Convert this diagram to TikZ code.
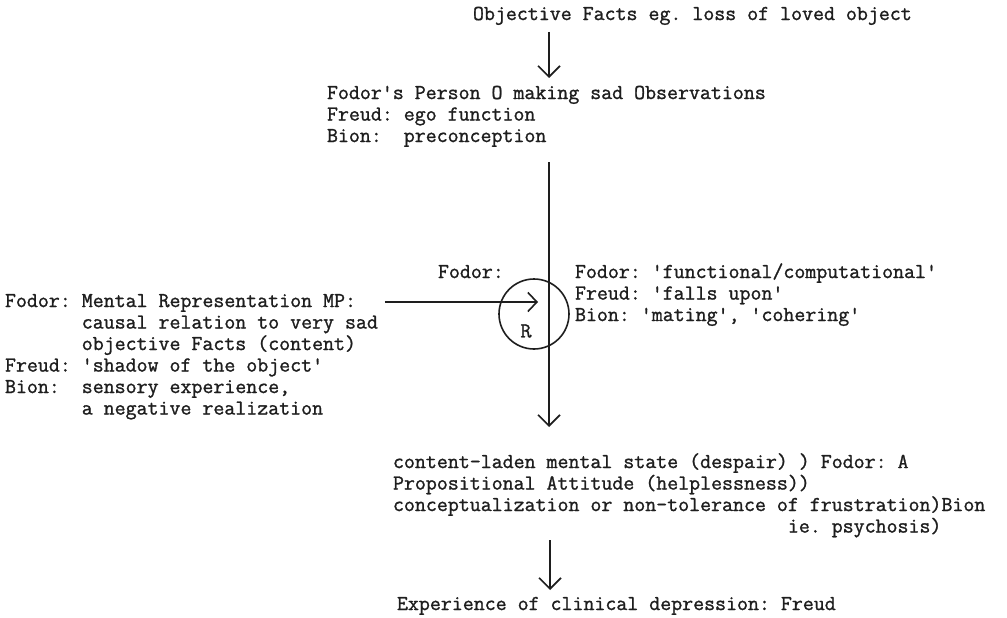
\documentclass[tikz,border=0pt]{standalone}
\usepackage{fontspec}
\setmonofont[FakeBold=1.2]{Latin Modern Mono}
\usetikzlibrary{arrows.meta}
\definecolor{ink}{HTML}{1E1E1E}
\begin{document}
\begin{tikzpicture}[x=1pt,y=-1pt,
  txt/.style={inner sep=0pt, outer sep=0pt, anchor=north west, align=left,
    font=\ttfamily\fontsize{21.3}{21.5}\selectfont, text=ink},
  link/.style={draw=ink, line width=1.6pt,
    -{Straight Barb[length=11pt,width=22pt,line width=1.6pt]}},
  smalllink/.style={draw=ink, line width=1.6pt,
    -{Straight Barb[length=9pt,width=19pt,line width=1.6pt]}},
  ring/.style={draw=ink, line width=1.6pt, circle, minimum size=70pt, inner sep=0pt},
]
\useasboundingbox[fill=white] (0,0) rectangle (1007,618);

% text blocks (every line carries a strut so the node edges sit on fixed baselines)
\node[txt] (facts) at (473,5) {\strut Objective Facts eg. loss of loved object};
\node[txt] (person) at (327,84) {\strut Fodor's Person O making sad Observations\\
  \strut Freud: ego function\\
  \strut Bion:~~preconception};
\node[txt] (flabel) at (438,263) {\strut Fodor:};
\node[txt] (rdef) at (575,263) {\strut Fodor: 'functional/computational'\\
  \strut Freud: 'falls upon'\\
  \strut Bion: 'mating', 'cohering'};
\node[txt] (mrep) at (5,292) {\strut Fodor: Mental Representation MP:\\
  \strut ~~~~~~~causal relation to very sad\\
  \strut ~~~~~~~objective Facts (content)\\
  \strut Freud: 'shadow of the object'\\
  \strut Bion:~~sensory experience,\\
  \strut ~~~~~~~a negative realization};
\node[txt] (state) at (393,453) {\strut content-laden mental state (despair) ) Fodor: A\\
  \strut Propositional Attitude (helplessness))\\
  \strut conceptualization or non-tolerance of frustration)Bion\\
  \strut ~~~~~~~~~~~~~~~~~~~~~~~~~~~~~~~~~~~~ie. psychosis)};
\node[txt] (exp) at (397,595) {\strut Experience of clinical depression: Freud};

% the relation circle R
\node[ring] (rc) at (534,314) {};
\node[inner sep=0pt, font=\ttfamily\fontsize{21.3}{21.5}\selectfont, text=ink] (rl) at (526,331) {R};

% main axis
\coordinate (vx) at (549,0);
\coordinate (rtip) at (538,302);
\draw[link, shorten <=5.5pt, shorten >=6pt] (facts.south -| vx) -- (person.north -| vx);
\draw[link, shorten <=13.5pt, shorten >=26pt] (person.south -| vx) -- (state.north -| vx);
\draw[link, shorten <=1pt, shorten >=5pt] ([xshift=1pt]state.south -| vx) -- ([xshift=1pt]exp.north -| vx);

% mental representation feeding into R
\draw[smalllink, shorten <=7pt] (mrep.east |- rtip) -- (rtip);
\end{tikzpicture}
\end{document}
